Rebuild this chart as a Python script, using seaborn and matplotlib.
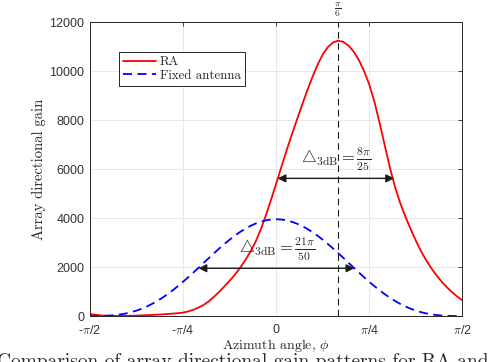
import numpy as np
import pandas as pd
import matplotlib
matplotlib.use("Agg")
import matplotlib.pyplot as plt
import seaborn as sns

# ---------------- data ----------------
angle_deg = [k * 2.5 for k in range(-36, 37)]   # -90 ... 90 degrees
ra_gain = [80, 50, 28, 14, 6, 3, 4, 7, 12, 18,
           25, 34, 45, 56, 68, 82, 98, 116, 138, 188,
           255, 345, 455, 605, 790, 990, 1210, 1440, 1680, 1960,
           2270, 2620, 3020, 3520, 4100, 4740, 5400, 6080, 6750, 7390,
           8000, 8610, 9200, 9750, 10250, 10680, 10980, 11170, 11240, 11190,
           11040, 10790, 10450, 10000, 9450, 8750, 7880, 6960, 6050, 5250,
           4600, 4050, 3550, 3080, 2650, 2280, 1950, 1660, 1400, 1175,
           970, 795, 640]
fixed_gain = [0, 0, 3, 9, 21, 40, 68, 107, 158, 221,
              298, 389, 494, 613, 745, 891, 1049, 1218, 1397, 1583,
              1776, 1972, 2171, 2370, 2566, 2757, 2940, 3115, 3278, 3427,
              3560, 3676, 3773, 3849, 3905, 3939, 3950, 3939, 3905, 3849,
              3773, 3676, 3560, 3427, 3278, 3115, 2940, 2757, 2566, 2370,
              2171, 1972, 1776, 1583, 1397, 1218, 1049, 891, 745, 613,
              494, 389, 298, 221, 158, 107, 68, 40, 21, 9,
              3, 0, 0]

xtick_pos = [-np.pi / 2, -np.pi / 4, 0, np.pi / 4, np.pi / 2]
xtick_labels = [r"-$\pi$/2", r"-$\pi$/4", "0", r"$\pi$/4", r"$\pi$/2"]
ytick_pos = [0, 2000, 4000, 6000, 8000, 10000, 12000]

ra_bw = [0.012, 0.995]          # 3 dB points of RA
ra_level = 5620
fixed_bw = [-0.655, 0.66]       # 3 dB points of fixed antenna
fixed_level = 1950
peak_angle = np.pi / 6

# ---------------- style ----------------
sns.set_theme(style="white")
plt.rcParams.update({
    "font.family": ["Liberation Sans", "DejaVu Sans"],
    "mathtext.fontset": "cm",
    "axes.unicode_minus": False,
})

df = pd.DataFrame({"phi": np.deg2rad(angle_deg), "RA": ra_gain,
                   "Fixed antenna": fixed_gain})

fig = plt.figure(figsize=(4.94, 3.62), dpi=100)
ax = fig.add_axes([0.182, 0.127, 0.754, 0.812])

ax.grid(True, color="#e4e4e4", lw=0.6)
ax.set_axisbelow(True)

ax.axvline(peak_angle, color="k", lw=0.8, ls=(0, (6, 4)), zorder=1.5)

sns.lineplot(data=df, x="phi", y="RA", color="#ff0000", lw=1.3, ax=ax,
             label="RA")
sns.lineplot(data=df, x="phi", y="Fixed antenna", color="#0000ff", lw=1.3,
             linestyle=(0, (5, 3)), ax=ax, label="Fixed antenna")

ax.set_xlim(-np.pi / 2, np.pi / 2)
ax.set_ylim(0, 12000)
ax.set_xticks(xtick_pos)
ax.set_xticklabels(xtick_labels)
ax.set_yticks(ytick_pos)
ax.set_yticklabels([str(v) for v in ytick_pos])
ax.tick_params(direction="in", top=True, right=True, length=3, width=0.6,
               colors="#262626", labelcolor="#333333", labelsize=9, pad=4)
ax.tick_params(axis="x", pad=6)
for s in ax.spines.values():
    s.set_visible(True)
    s.set_color("#262626")
    s.set_linewidth(0.7)

ax.set_xlabel(r"Azimuth angle, $\phi$", fontfamily="cmr10", fontsize=10,
              color="#262626")
ax.set_ylabel("Array directional gain", fontfamily="cmr10", fontsize=10.5,
              color="#262626")
ax.xaxis.set_label_coords(0.5, -0.07)
ax.yaxis.set_label_coords(-0.117, 0.5)

ax.text(peak_angle, 1.04, r"$\dfrac{\pi}{6}$", transform=ax.get_xaxis_transform(),
        ha="center", va="center", fontsize=7)

arrow_kw = dict(arrowstyle="<|-|>", color="k", lw=1.0, mutation_scale=12,
                shrinkA=0, shrinkB=0)
ax.annotate("", xy=(ra_bw[1], ra_level), xytext=(ra_bw[0], ra_level),
            arrowprops=arrow_kw)
ax.annotate("", xy=(fixed_bw[1], fixed_level), xytext=(fixed_bw[0], fixed_level),
            arrowprops=arrow_kw)
ax.text(0.51, ra_level + 230, r"$\bigtriangleup_{\mathrm{3dB}}=\frac{8\pi}{25}$",
        ha="center", va="bottom", fontsize=12)
ax.text(0.005, fixed_level + 230, r"$\bigtriangleup_{\mathrm{3dB}}=\frac{21\pi}{50}$",
        ha="center", va="bottom", fontsize=12)

leg = ax.legend(loc="upper left", bbox_to_anchor=(0.078, 0.898),
                prop={"family": "cmr10", "size": 9.3}, frameon=True,
                fancybox=False, edgecolor="#262626", framealpha=1,
                borderpad=0.3, handlelength=2.6, handletextpad=0.25,
                labelspacing=0.12, borderaxespad=0)
leg.get_frame().set_linewidth(0.7)

fig.text(-0.006, 0.026, "Comparison of array directional gain patterns for RA and",
         fontfamily="cmr10", fontsize=14, ha="left", va="top")

fig.savefig("out.png", dpi=100)
